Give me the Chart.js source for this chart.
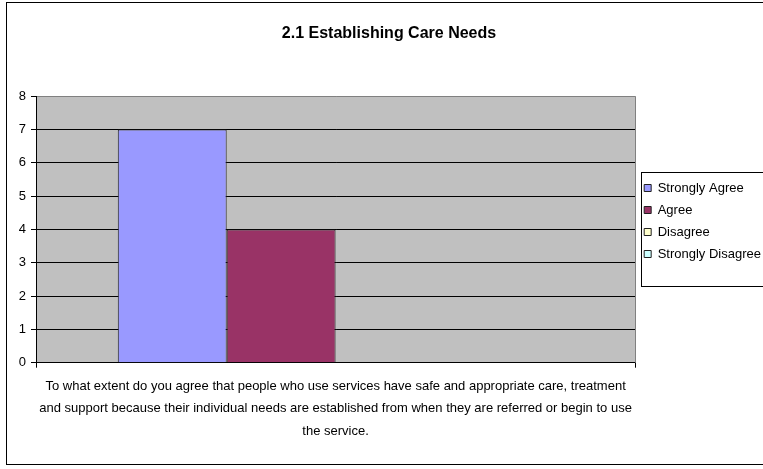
<!DOCTYPE html>
<html>
<head>
<meta charset="utf-8">
<script src="https://cdn.jsdelivr.net/npm/chart.js@4.4.1/dist/chart.umd.min.js"></script>
<style>
  html, body { margin: 0; padding: 0; background: #fff; overflow: hidden; }
  #wrap { position: relative; width: 763px; height: 469px; overflow: hidden; }
  #wrap canvas { position: absolute; left: 0; top: 0; }
</style>
</head>
<body>
<div id="wrap"><canvas id="grafica" width="790" height="469"></canvas></div>
<script>
const titulo = '2.1 Establishing Care Needs'
const pregunta = [
  'To what extent do you agree that people who use services have safe and appropriate care, treatment',
  'and support because their individual needs are established from when they are referred or begin to use',
  'the service.'
]
const categorias = ['']
const respuestas = ['Strongly Agree', 'Agree', 'Disagree', 'Strongly Disagree']
const conteos = [7, 4, 0, 0]
const colores = ['#9999ff', '#993366', '#ffffcc', '#ccffff']
const yMin = 0
const yMax = 8
const yPaso = 1

const FUENTE = "'Liberation Sans', Arial, sans-serif"

// fondo gris del área, marco exterior, borde derecho y recuadro de la leyenda
const marco = {
  id: 'marco',
  beforeDraw(chart) {
    const { ctx, chartArea: a } = chart
    ctx.save()
    ctx.fillStyle = '#fff'
    ctx.fillRect(0, 0, chart.width, chart.height)
    ctx.fillStyle = '#c0c0c0'
    ctx.fillRect(a.left, a.top, a.right - a.left, a.bottom - a.top)
    ctx.strokeStyle = '#000'
    ctx.lineWidth = 1
    ctx.strokeRect(6.5, 2.5, chart.width, 462)
    ctx.restore()
  },
  afterDraw(chart) {
    const { ctx, chartArea: a } = chart
    ctx.save()
    ctx.strokeStyle = '#808080'
    ctx.lineWidth = 1
    ctx.beginPath()
    ctx.moveTo(Math.round(a.right) + 0.5, a.top)
    ctx.lineTo(Math.round(a.right) + 0.5, a.bottom)
    ctx.stroke()
    const hb = chart.legend.legendHitBoxes
    if (hb && hb.length) {
      const x = Math.round(Math.min(...hb.map(h => h.left))) - 2.5
      const y = Math.round(hb[0].top) - 9.5
      const last = hb[hb.length - 1]
      const h = Math.round(last.top + last.height) + 25.5 - y
      ctx.strokeStyle = '#000'
      ctx.strokeRect(x, y, chart.width, h)
    }
    ctx.restore()
  }
}

new Chart(document.getElementById('grafica'), {
  type: 'bar',
  data: {
    labels: categorias,
    datasets: respuestas.map((r, i) => ({
      label: r,
      data: [conteos[i]],
      backgroundColor: colores[i],
      borderColor: '#222',
      borderWidth: 1,
      categoryPercentage: 0.727,
      barPercentage: 1
    }))
  },
  options: {
    responsive: false,
    animation: false,
    layout: { padding: { left: 7, right: 19, top: 0, bottom: 27 } },
    plugins: {
      title: {
        display: true,
        text: titulo,
        color: '#000',
        font: { family: FUENTE, size: 16, weight: 'bold' },
        padding: { top: 24, bottom: 53 }
      },
      legend: {
        position: 'right',
        labels: {
          color: '#000',
          font: { family: FUENTE, size: 13 },
          boxWidth: 7,
          boxHeight: 7,
          padding: 9
        }
      },
      tooltip: { enabled: false }
    },
    scales: {
      x: {
        offset: true,
        grid: { drawOnChartArea: false, drawTicks: true, tickLength: 5, color: '#000' },
        border: { color: '#000', width: 1 },
        ticks: { display: false },
        title: {
          display: true,
          text: pregunta,
          color: '#000',
          font: { family: FUENTE, size: 13, lineHeight: 1.7 },
          padding: { top: 8, bottom: 0 }
        }
      },
      y: {
        min: yMin,
        max: yMax,
        afterFit: s => { s.width = 29 },
        ticks: {
          stepSize: yPaso,
          color: '#000',
          padding: 5,
          font: { family: FUENTE, size: 13 }
        },
        grid: {
          tickLength: 5,
          color: c => (c.tick && c.tick.value === yMax ? '#808080' : '#000'),
          tickColor: '#000'
        },
        border: { color: '#000', width: 1 }
      }
    }
  },
  plugins: [marco]
})
</script>
</body>
</html>
